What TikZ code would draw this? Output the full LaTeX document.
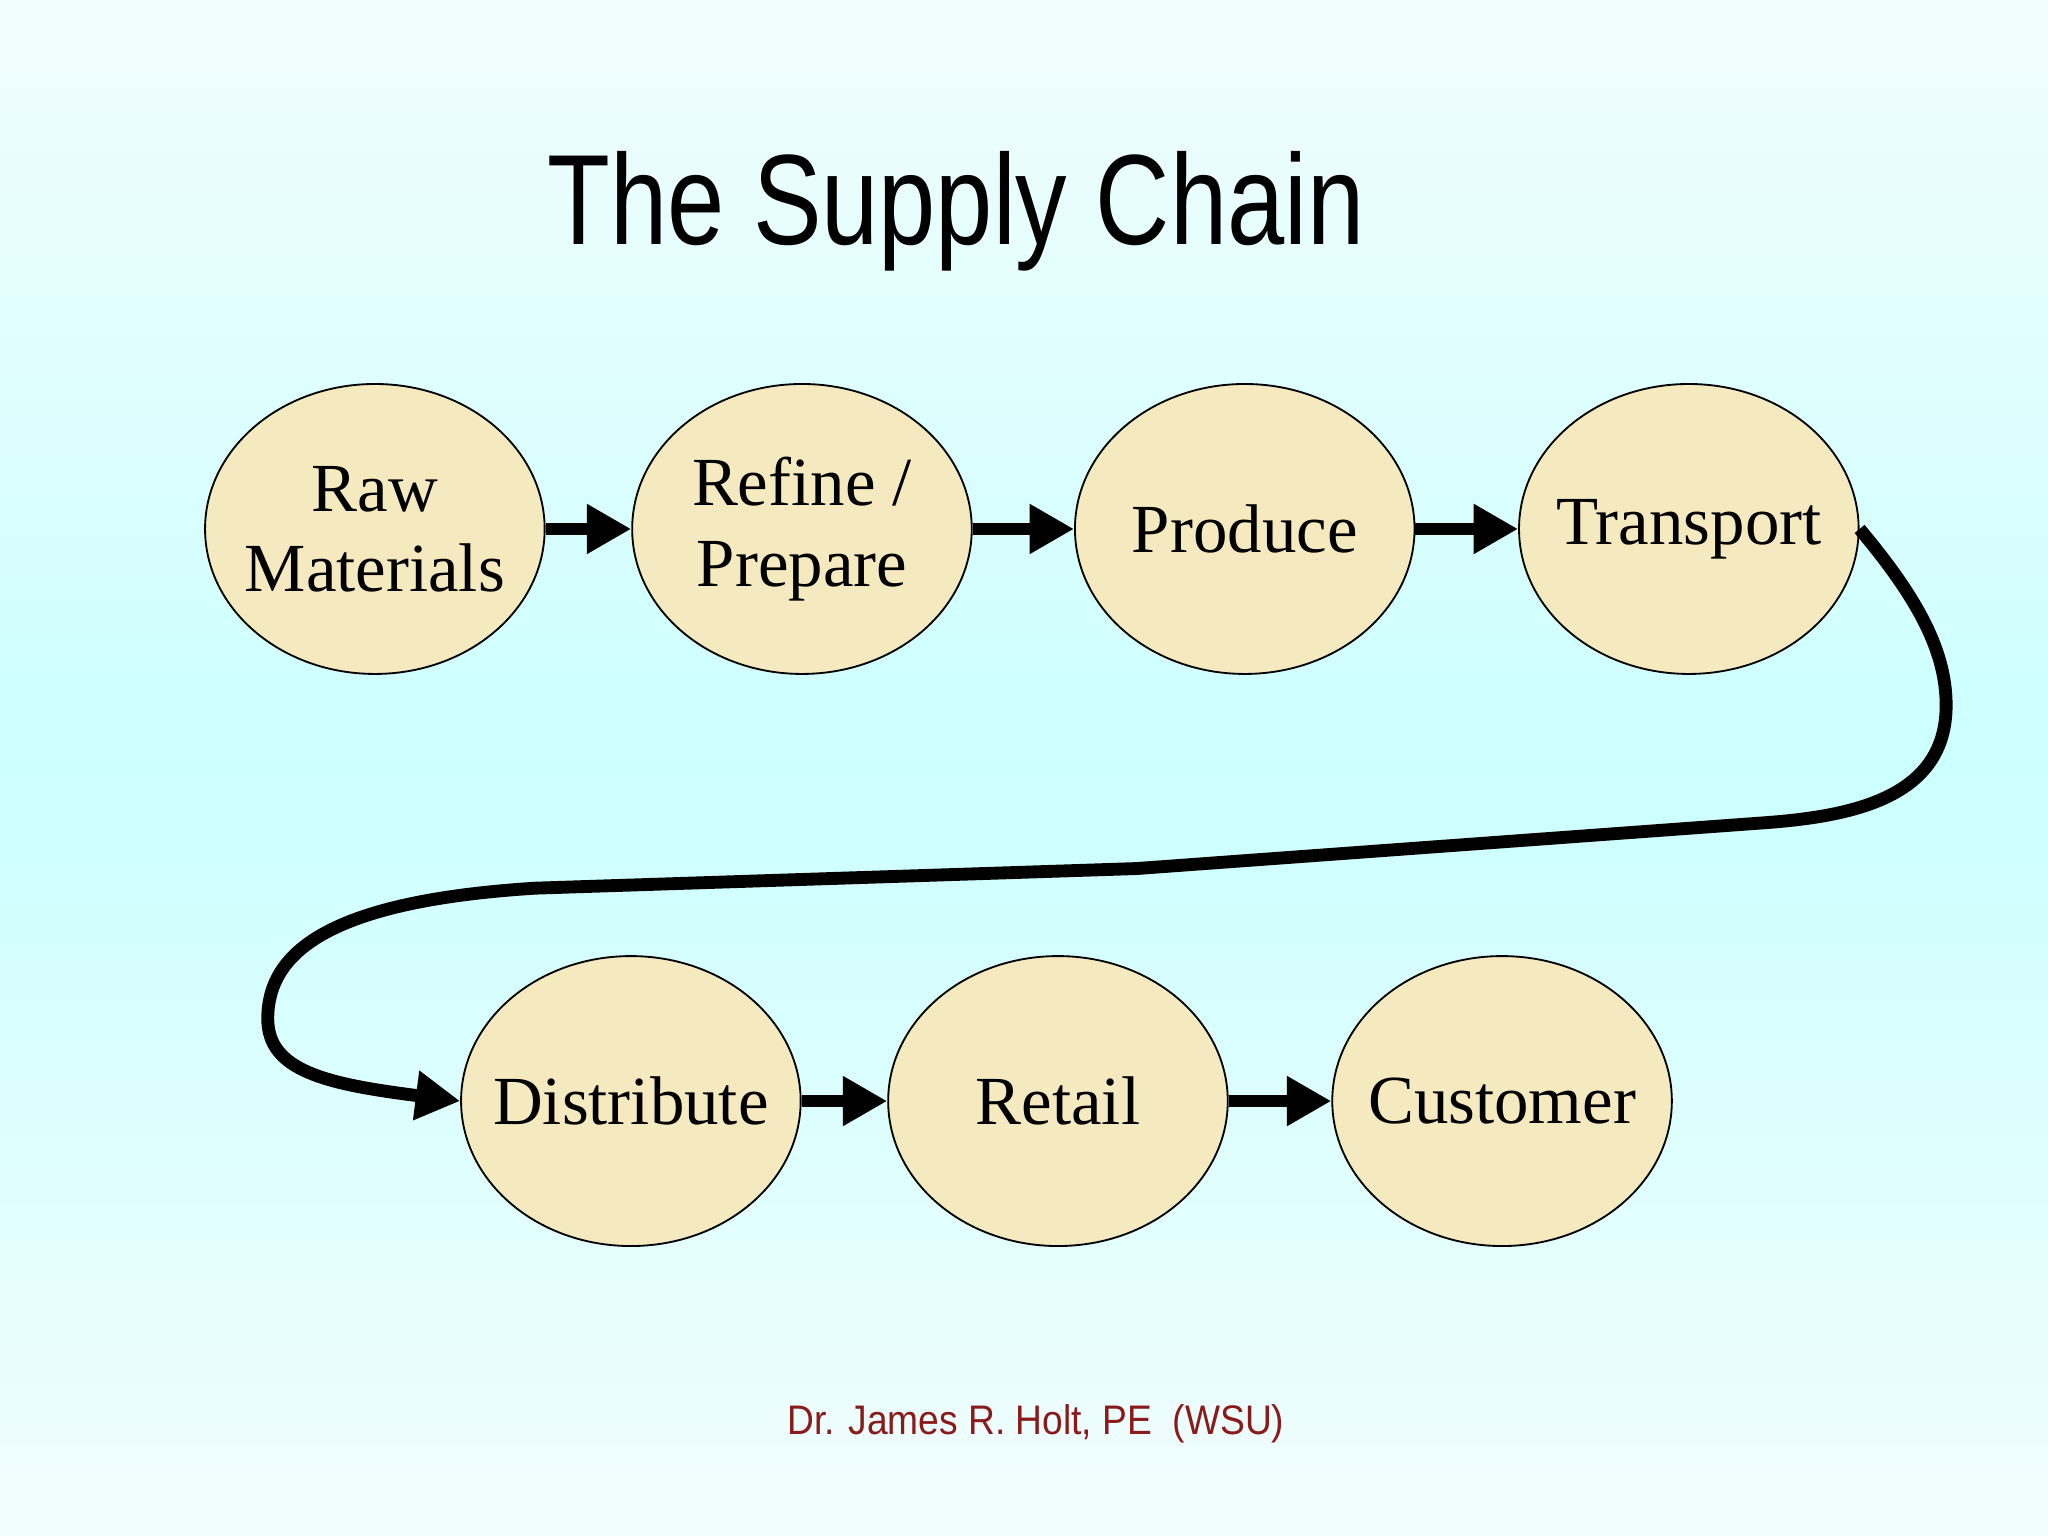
\documentclass[tikz,border=0pt]{standalone}
\usepackage{fontspec}
\setmainfont{Liberation Serif}
\newfontfamily\titlefont{Liberation Sans}
\usetikzlibrary{shapes.geometric, arrows.meta, positioning}
\definecolor{stagefill}{HTML}{F5E9C0}
\definecolor{bgtop}{HTML}{F2FDFD}
\definecolor{bgmid}{HTML}{CCFFFF}
\definecolor{authorred}{HTML}{8B1A1A}
\begin{document}
\begin{tikzpicture}[
    stage/.style={ellipse, draw=black, fill=stagefill, thin,
                 minimum width=2.6cm, minimum height=2.22cm, inner xsep=-0.3cm, inner ysep=0pt,
                 align=center, font=\fontsize{15}{17.5}\selectfont},
    flow/.style={-{Triangle[length=3.4mm, width=3.6mm]}, line width=2.8pt, draw=black}
]
% background
\shade[top color=bgtop, bottom color=bgtop, middle color=bgmid] (0,0) rectangle (15.68,-11.76);
\useasboundingbox (0,0) rectangle (15.68,-11.76);

\node[font=\titlefont\fontsize{28}{30}\selectfont] (title) at (7.32,-1.62)
  {\scalebox{0.8}[1]{The Supply Chain}};

% top row
\node[stage] (raw) at (2.87,-4.05) {Raw\\Materials};
\node[stage] (refine) at (6.14,-4.05) {Refine /\\Prepare};
\node[stage] (produce) at (9.53,-4.05) {Produce};
\node[stage] (transport) at (12.93,-4.05) {Transport};

% bottom row
\node[stage] (distribute) at (4.83,-8.43) {Distribute};
\node[stage] (retail) at (8.10,-8.43) {Retail};
\node[stage] (customer) at (11.50,-8.43) {Customer};

\draw[flow] (raw) -- (refine);
\draw[flow] (refine) -- (produce);
\draw[flow] (produce) -- (transport);
\draw[flow] (transport.east) .. controls (14.7,-4.6) and (14.9,-5.0) .. (14.9,-5.4)
  .. controls (14.9,-6.1) and (14.2,-6.25) .. (13.5,-6.3)
  -- (8.7,-6.65) -- (4.1,-6.8)
  .. controls (2.5,-6.9) and (2.05,-7.3) .. (2.05,-7.8)
  .. controls (2.05,-8.2) and (2.5,-8.3) .. (distribute.west);
\draw[flow] (distribute) -- (retail);
\draw[flow] (retail) -- (customer);

\node[font=\titlefont\fontsize{9}{11}\selectfont, text=authorred] (author) at (7.93,-10.9)
  {\scalebox{0.9}[1]{Dr. James R. Holt, PE\ \ (WSU)}};
\end{tikzpicture}
\end{document}
